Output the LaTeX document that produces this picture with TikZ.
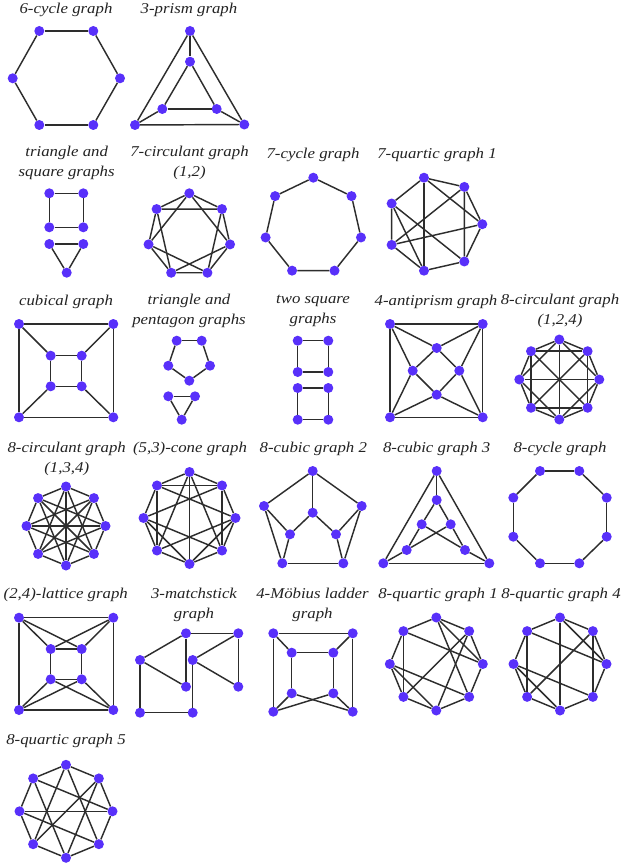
\documentclass[tikz,border=0pt]{standalone}
\usepackage{fontspec}
\newfontfamily\tfont{Liberation Serif}[FakeStretch=1.12]
\definecolor{vcol}{RGB}{88,48,250}
\definecolor{ecol}{RGB}{45,45,45}
\definecolor{tcol}{RGB}{35,35,35}
\tikzset{
 v/.style={circle,fill=vcol,draw=none,inner sep=0pt,minimum size=10pt},
 e/.style={draw=ecol,line width=1.45pt},
 ttl/.style={font=\tfont\itshape\fontsize{15}{20}\selectfont,text=tcol,align=center,inner sep=0pt},
}
\begin{document}
\begin{tikzpicture}[x=1pt,y=-1pt]
\fill[white] (0,0) rectangle (629,866);
\useasboundingbox (0,0) rectangle (629,866);

% ---------- titles
\node[ttl] (ti1) at (66,10) {6-cycle graph};
\node[ttl] (ti2) at (189,10) {3-prism graph};
\node[ttl] (ti3) at (66.7,163) {triangle and\\square graphs};
\node[ttl] (ti4) at (189.5,163) {7-circulant graph\\(1,2)};
\node[ttl] (ti5) at (313,155) {7-cycle graph};
\node[ttl] (ti6) at (437,155) {7-quartic graph 1};
\node[ttl] (ti7) at (66,302) {cubical graph};
\node[ttl] (ti8) at (189,311) {triangle and\\pentagon graphs};
\node[ttl] (ti9) at (313,311) {two square\\graphs};
\node[ttl] (ti10) at (436,302) {4-antiprism graph};
\node[ttl] (ti11) at (560,311) {8-circulant graph\\(1,2,4)};
\node[ttl] (ti12) at (66.7,459) {8-circulant graph\\(1,3,4)};
\node[ttl] (ti13) at (190,449) {(5,3)-cone graph};
\node[ttl] (ti14) at (313.3,449) {8-cubic graph 2};
\node[ttl] (ti15) at (436.7,449) {8-cubic graph 3};
\node[ttl] (ti16) at (560,449) {8-cycle graph};
\node[ttl] (ti17) at (65.8,595) {(2,4)-lattice graph};
\node[ttl] (ti18) at (194,605) {3-matchstick\\graph};
\node[ttl] (ti19) at (312.5,605) {4-M\"obius ladder\\graph};
\node[ttl] (ti20) at (438,595) {8-quartic graph 1};
\node[ttl] (ti21) at (561,595) {8-quartic graph 4};
\node[ttl] (ti22) at (66,741) {8-quartic graph 5};

% ---------- 6-cycle
\node[v] (a0) at (39.3,31) {};
\node[v] (a1) at (93.3,31) {};
\node[v] (a2) at (120,78.3) {};
\node[v] (a3) at (93.3,125) {};
\node[v] (a4) at (39.3,125) {};
\node[v] (a5) at (12.7,78.3) {};
\foreach \p/\q in {0/1,1/2,2/3,3/4,4/5,5/0} \draw[e] (a\p) -- (a\q);

% ---------- 3-prism
\node[v] (b1) at (190,31) {};
\node[v] (b2) at (190,61.7) {};
\node[v] (b3) at (162.3,109) {};
\node[v] (b4) at (216.7,109) {};
\node[v] (b5) at (135,125) {};
\node[v] (b6) at (244.3,124.5) {};
\foreach \p/\q in {1/5,1/6,5/6,2/3,2/4,3/4,1/2,3/5,4/6} \draw[e] (b\p) -- (b\q);

% ---------- triangle and square
\node[v] (sa) at (49.3,193.3) {};
\node[v] (sb) at (83.3,193.3) {};
\node[v] (sc) at (83.3,227.3) {};
\node[v] (sd) at (49.3,227.3) {};
\draw[e] (sa) -- (sb); \draw[e] (sb) -- (sc); \draw[e] (sc) -- (sd); \draw[e] (sd) -- (sa);
\node[v] (ta) at (49.3,244) {};
\node[v] (tb) at (83.3,244) {};
\node[v] (tc) at (66.7,272.7) {};
\draw[e] (ta) -- (tb); \draw[e] (tb) -- (tc); \draw[e] (tc) -- (ta);

% ---------- 7-circulant (1,2)
\foreach \i in {0,...,6} \node[v] (c\i) at ([shift={(189.3,235.1)}]{-90+360/7*\i}:41.8) {};
\foreach \i in {0,...,6} {
  \pgfmathtruncatemacro\j{mod(\i+1,7)}
  \pgfmathtruncatemacro\k{mod(\i+2,7)}
  \draw[e] (c\i) -- (c\j);
  \draw[e] (c\i) -- (c\k);
}

% ---------- 7-cycle
\foreach \i in {0,...,6} \node[v] (cy\i) at ([shift={(313.3,226.6)}]{-90+360/7*\i}:48.9) {};
\foreach \i in {0,...,6} {
  \pgfmathtruncatemacro\j{mod(\i+1,7)}
  \draw[e] (cy\i) -- (cy\j);
}

% ---------- 7-quartic 1
\foreach \i in {0,...,6} \node[v] (q\i) at ([shift={(434.6,224.2)}]{-360/7*\i}:47.7) {};
\foreach \p/\q in {0/1,1/2,2/3,3/4,4/5,5/6,6/0,2/0,3/5,6/1,2/5,1/4,3/6,0/4} \draw[e] (q\p) -- (q\q);

% ---------- cubical
\node[v] (oa) at (19,324) {};
\node[v] (ob) at (113.3,324) {};
\node[v] (oc) at (113.3,417.3) {};
\node[v] (od) at (19,417.3) {};
\node[v] (ia) at (50.7,355.7) {};
\node[v] (ib) at (81.7,355.7) {};
\node[v] (ic) at (81.7,386.3) {};
\node[v] (id) at (50.7,386.3) {};
\foreach \p/\q in {oa/ob,ob/oc,oc/od,od/oa,ia/ib,ib/ic,ic/id,id/ia,oa/ia,ob/ib,oc/ic,od/id} \draw[e] (\p) -- (\q);

% ---------- triangle and pentagon
\node[v] (pa) at (176.7,340.7) {};
\node[v] (pb) at (201.7,340.7) {};
\node[v] (pc) at (210,365.7) {};
\node[v] (pd) at (189.3,380.7) {};
\node[v] (pe) at (168.3,365.7) {};
\foreach \p/\q in {pa/pb,pb/pc,pc/pd,pd/pe,pe/pa} \draw[e] (\p) -- (\q);
\node[v] (ra) at (168.3,396.3) {};
\node[v] (rb) at (195,396.3) {};
\node[v] (rc) at (181.7,419.7) {};
\foreach \p/\q in {ra/rb,rb/rc,rc/ra} \draw[e] (\p) -- (\q);

% ---------- two squares
\node[v] (xa) at (297.7,340.7) {};
\node[v] (xb) at (328.3,340.7) {};
\node[v] (xc) at (328.3,372) {};
\node[v] (xd) at (297.7,372) {};
\node[v] (ya) at (297.7,388) {};
\node[v] (yb) at (328.3,388) {};
\node[v] (yc) at (328.3,419.7) {};
\node[v] (yd) at (297.7,419.7) {};
\foreach \p/\q in {xa/xb,xb/xc,xc/xd,xd/xa,ya/yb,yb/yc,yc/yd,yd/ya} \draw[e] (\p) -- (\q);

% ---------- 4-antiprism
\node[v] (ma) at (390,324) {};
\node[v] (mb) at (482.7,324) {};
\node[v] (mc) at (482.7,417.3) {};
\node[v] (md) at (390,417.3) {};
\node[v] (nt) at (436.7,348) {};
\node[v] (nr) at (459.3,370.7) {};
\node[v] (nb) at (436.7,394.7) {};
\node[v] (nl) at (412.7,370.7) {};
\foreach \p/\q in {ma/mb,mb/mc,mc/md,md/ma,nt/nr,nr/nb,nb/nl,nl/nt,ma/nt,ma/nl,mb/nt,mb/nr,mc/nr,mc/nb,md/nb,md/nl} \draw[e] (\p) -- (\q);

% ---------- 8-circulant (1,2,4)
\foreach \i in {0,...,7} \node[v] (ci\i) at ([shift={(559.3,379.5)}]{-90+45*\i}:40) {};
\foreach \i in {0,...,7} {
  \pgfmathtruncatemacro\j{mod(\i+1,8)}
  \pgfmathtruncatemacro\k{mod(\i+2,8)}
  \draw[e] (ci\i) -- (ci\j);
  \draw[e] (ci\i) -- (ci\k);
}
\foreach \i in {0,...,3} {
  \pgfmathtruncatemacro\j{\i+4}
  \draw[e] (ci\i) -- (ci\j);
}

% ---------- 8-circulant (1,3,4)
\foreach \i in {0,...,7} \node[v] (cj\i) at ([shift={(66,526)}]{-90+45*\i}:39.5) {};
\foreach \i in {0,...,7} {
  \pgfmathtruncatemacro\j{mod(\i+1,8)}
  \pgfmathtruncatemacro\k{mod(\i+3,8)}
  \draw[e] (cj\i) -- (cj\j);
  \draw[e] (cj\i) -- (cj\k);
}
\foreach \i in {0,...,3} {
  \pgfmathtruncatemacro\j{\i+4}
  \draw[e] (cj\i) -- (cj\j);
}

% ---------- (5,3)-cone
\foreach \i in {0,...,7} \node[v] (k\i) at ([shift={(189.5,518)}]{-90+45*\i}:46) {};
\foreach \p/\q in {0/1,1/2,2/3,3/4,4/5,5/6,6/7,7/0,0/4,1/3,7/5,0/3,0/5,1/7,2/4,2/5,2/7,6/1,6/3,6/4} \draw[e] (k\p) -- (k\q);

% ---------- 8-cubic 2
\node[v] (da) at (312.7,471) {};
\node[v] (db) at (264,506) {};
\node[v] (dc) at (361.7,506) {};
\node[v] (dd) at (312.7,512.7) {};
\node[v] (de) at (290,534.3) {};
\node[v] (df) at (336,534.3) {};
\node[v] (dg) at (282.3,563.3) {};
\node[v] (dh) at (343.3,563.3) {};
\foreach \p/\q in {da/db,da/dc,da/dd,db/de,db/dg,dc/df,dc/dh,dd/de,dd/df,de/dg,df/dh,dg/dh} \draw[e] (\p) -- (\q);

% ---------- 8-cubic 3
\node[v] (ea) at (436.7,471) {};
\node[v] (eb) at (436.7,500) {};
\node[v] (ec) at (421.7,524.3) {};
\node[v] (ed) at (450.7,524.3) {};
\node[v] (ee) at (406.7,550) {};
\node[v] (ef) at (465,550) {};
\node[v] (eg) at (383.3,563.3) {};
\node[v] (eh) at (489.3,563.3) {};
\foreach \p/\q in {ea/eg,ea/eh,eg/eh,ea/eb,eb/ec,eb/ed,ec/ee,ec/ef,ed/ee,ed/ef,ee/eg,ef/eh} \draw[e] (\p) -- (\q);

% ---------- 8-cycle
\node[v] (h0) at (540,471) {};
\node[v] (h1) at (579.3,471) {};
\node[v] (h2) at (606.7,497.7) {};
\node[v] (h3) at (606.7,536.7) {};
\node[v] (h4) at (579.3,563.3) {};
\node[v] (h5) at (540,563.3) {};
\node[v] (h6) at (513.3,536.7) {};
\node[v] (h7) at (513.3,497.7) {};
\foreach \p/\q in {0/1,1/2,2/3,3/4,4/5,5/6,6/7,7/0} \draw[e] (h\p) -- (h\q);

% ---------- (2,4)-lattice
\node[v] (la) at (19,617.7) {};
\node[v] (lb) at (113.3,617.7) {};
\node[v] (lc) at (113.3,710) {};
\node[v] (ld) at (19,710) {};
\node[v] (li) at (50.7,649) {};
\node[v] (lj) at (81.7,649) {};
\node[v] (lk) at (81.7,679.3) {};
\node[v] (ll) at (50.7,679.3) {};
\foreach \p/\q in {la/lb,lb/lc,lc/ld,ld/la,li/lj,lj/lk,lk/ll,ll/li,la/li,la/lj,lb/lj,lb/li,lc/lk,lc/ll,ld/ll,ld/lk} \draw[e] (\p) -- (\q);

% ---------- 3-matchstick
\node[v] (fa) at (186,633.3) {};
\node[v] (fb) at (238.3,633.3) {};
\node[v] (fc) at (140,660) {};
\node[v] (fd) at (192.7,660) {};
\node[v] (fe) at (186,686.7) {};
\node[v] (ff) at (238.3,686.7) {};
\node[v] (fg) at (140,712.7) {};
\node[v] (fh) at (192.7,712.7) {};
\foreach \p/\q in {fa/fb,fa/fc,fa/fe,fc/fe,fc/fg,fg/fh,fh/fd,fd/fb,fd/ff,fb/ff} \draw[e] (\p) -- (\q);

% ---------- 4-Moebius ladder
\node[v] (ga) at (273.3,633.3) {};
\node[v] (gb) at (352.7,633.3) {};
\node[v] (gc) at (352.7,711.7) {};
\node[v] (gd) at (273.3,711.7) {};
\node[v] (gi) at (291.7,652.7) {};
\node[v] (gj) at (333.3,652.7) {};
\node[v] (gk) at (333.3,693.3) {};
\node[v] (gl) at (291.7,693.3) {};
\foreach \p/\q in {ga/gb,ga/gd,gb/gc,ga/gi,gb/gj,gi/gj,gi/gl,gj/gk,gd/gl,gd/gk,gc/gk,gc/gl} \draw[e] (\p) -- (\q);

% ---------- 8-quartic 1
\foreach \i in {0,...,7} \node[v] (u\i) at ([shift={(436.3,664)}]{-90+45*\i}:46.5) {};
\foreach \p/\q in {0/1,1/2,2/3,3/4,4/5,5/6,6/7,7/0,0/2,0/3,7/2,7/5,1/4,1/5,6/3,6/4} \draw[e] (u\p) -- (u\q);

% ---------- 8-quartic 4
\foreach \i in {0,...,7} \node[v] (w\i) at ([shift={(560,664)}]{-90+45*\i}:46.5) {};
\foreach \p/\q in {0/1,1/2,2/3,3/4,4/5,5/6,6/7,7/0,0/4,7/5,1/3,0/2,7/2,6/3,1/5,6/4} \draw[e] (w\p) -- (w\q);

% ---------- 8-quartic 5
\foreach \i in {0,...,7} \node[v] (z\i) at ([shift={(66,811.3)}]{-90+45*\i}:46.5) {};
\foreach \p/\q in {0/1,1/2,2/3,3/4,4/5,5/6,6/7,7/0,6/2,7/2,6/3,0/3,0/5,7/4,1/4,1/5} \draw[e] (z\p) -- (z\q);
\end{tikzpicture}
\end{document}
